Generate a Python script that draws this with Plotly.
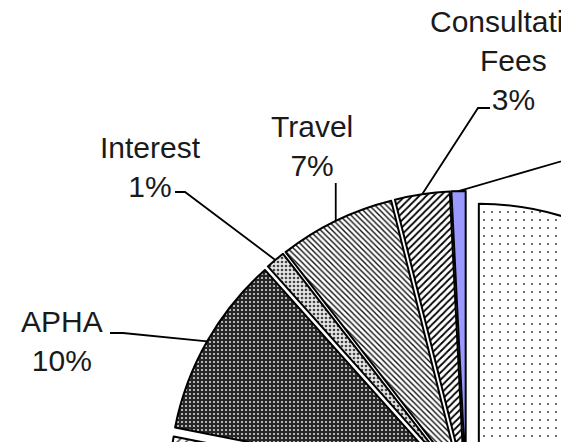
import math
import plotly.graph_objects as go

# ---- data (clockwise from 12 o'clock) ----
labels = ["Salaries", "Meetings", "Other", "APHA", "Interest", "Travel", "Consultation Fees", "Supplies"]
values = [50.0, 15.0, 13.1, 10.3, 1.1, 6.6, 3.1, 0.8]

# ---- styling ----
slice_colors = ["white", "white", "white", "#262626", "#e6e6e6", "white", "white", "#9999ff"]
pat_shapes = [".", "x", "/", ".", ".", "\\", "/", ""]
pat_fg = ["#333333", "#555555", "#555555", "#d8d8d8", "#444444", "#111111", "black", "black"]
pat_size = [8, 6, 6, 4, 4, 4, 5, 6]
pat_solid = [0.045, 0.3, 0.3, 0.22, 0.35, 0.35, 0.35, 0.3]

W, H = 1000, 1000
CX, CY = 466, 489          # pie centre (px)
RX = 298                   # half of pie box (px)
PULL = 0.045

fig = go.Figure(go.Pie(
    labels=labels, values=values, sort=False, direction="clockwise", rotation=0,
    pull=[PULL] * len(values), textinfo="none", textposition="none", hoverinfo="none",
    showlegend=False,
    domain=dict(x=[(CX - RX) / W, (CX + RX) / W], y=[(H - CY - RX) / H, (H - CY + RX) / H]),
    marker=dict(colors=slice_colors, line=dict(color="black", width=2),
                pattern=dict(shape=pat_shapes, fgcolor=pat_fg, bgcolor=slice_colors,
                             size=pat_size, solidity=pat_solid, fillmode="replace")),
))

# label layout: (text centre x, centre y, leader start points) in px
label_layout = {
    "Consultation Fees": (513, 61, [(490, 108), (478, 108)]),
    "Travel": (312, 146, None),
    "Interest": (150, 167, [(175, 192), (185, 192)]),
    "APHA": (62, 341, [(110, 333), (123, 333)]),
    "Supplies": (660, 110, [(610, 150), (600, 150)]),
}

total = sum(values)
cum = 0.0
shapes = []
annotations = []
for name, v in zip(labels, values):
    mid = 360.0 * (cum + v / 2) / total
    cum += v
    if name not in label_layout:
        continue
    tx, ty, lead = label_layout[name]
    ex = CX + RX * math.sin(math.radians(mid))
    ey = CY - RX * math.cos(math.radians(mid))
    pts = lead if lead is not None else [(ex, 183)]
    pts = pts + [(ex, ey)]
    path = "M " + " L ".join(f"{x / W},{1 - y / H}" for x, y in pts)
    shapes.append(dict(type="path", xref="paper", yref="paper", path=path,
                       line=dict(color="black", width=1.8)))
    annotations.append(dict(xref="paper", yref="paper", x=tx / W, y=1 - ty / H,
                            xanchor="center", yanchor="middle", showarrow=False,
                            text=name.replace(" ", "<br>") + f"<br>{round(v)}%",
                            font=dict(family="Liberation Sans, Arial", size=30, color="#1a1a1a")))

fig.update_layout(width=W, height=H, autosize=False, margin=dict(l=0, r=0, t=0, b=0),
                  paper_bgcolor="white", plot_bgcolor="white",
                  shapes=shapes, annotations=annotations)

fig.write_html("out.html", post_script=(
    "document.body.style.margin='0';document.body.style.overflow='hidden';"
    "document.documentElement.style.overflow='hidden';"))
